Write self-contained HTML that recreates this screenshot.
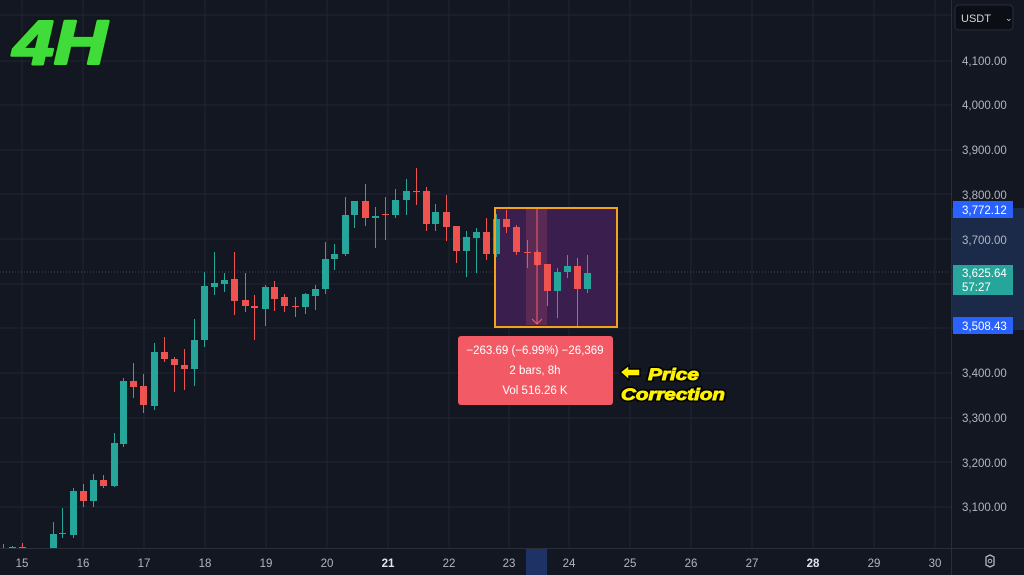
<!DOCTYPE html>
<html><head><meta charset="utf-8"><style>
html,body{margin:0;padding:0;background:#131722;width:1024px;height:575px;overflow:hidden}
svg{display:block}
text{font-family:"Liberation Sans",sans-serif}
</style></head><body>
<svg id="s" width="1024" height="575" viewBox="0 0 1024 575" xmlns="http://www.w3.org/2000/svg">
<rect width="1024" height="575" fill="#131722"/>
<g stroke="#1f2431" stroke-width="1">
<line x1="0" y1="61" x2="951" y2="61"/><line x1="0" y1="105" x2="951" y2="105"/><line x1="0" y1="150" x2="951" y2="150"/>
<line x1="0" y1="194" x2="951" y2="194"/><line x1="0" y1="239" x2="951" y2="239"/><line x1="0" y1="284" x2="951" y2="284"/>
<line x1="0" y1="328" x2="951" y2="328"/><line x1="0" y1="373" x2="951" y2="373"/><line x1="0" y1="418" x2="951" y2="418"/>
<line x1="0" y1="462" x2="951" y2="462"/><line x1="0" y1="507" x2="951" y2="507"/><line x1="0" y1="15" x2="951" y2="15"/>
<line x1="22" y1="0" x2="22" y2="548"/><line x1="83" y1="0" x2="83" y2="548"/><line x1="144" y1="0" x2="144" y2="548"/>
<line x1="205" y1="0" x2="205" y2="548"/><line x1="266" y1="0" x2="266" y2="548"/><line x1="327" y1="0" x2="327" y2="548"/>
<line x1="388" y1="0" x2="388" y2="548"/><line x1="449" y1="0" x2="449" y2="548"/><line x1="509" y1="0" x2="509" y2="548"/>
<line x1="569" y1="0" x2="569" y2="548"/><line x1="630" y1="0" x2="630" y2="548"/><line x1="691" y1="0" x2="691" y2="548"/>
<line x1="752" y1="0" x2="752" y2="548"/><line x1="813" y1="0" x2="813" y2="548"/><line x1="874" y1="0" x2="874" y2="548"/>
<line x1="935" y1="0" x2="935" y2="548"/>
</g>
<line x1="0" y1="272" x2="951" y2="272" stroke="#3a4a5a" stroke-dasharray="1,2"/>
<rect x="495" y="208" width="122" height="119" fill="#3a1e4e" />
<rect x="526" y="209" width="21" height="116" fill="#5a2a55"/>
<g id="c"></g>
<line x1="537" y1="209" x2="537" y2="324" stroke="#f06070" stroke-width="1"/>
<polyline points="532,319 537,324 542,319" fill="none" stroke="#f06070"/>
<rect x="495" y="208" width="122" height="119" fill="none" stroke="#f3a21d" stroke-width="2"/>
<rect x="458" y="336" width="155" height="69" rx="3" fill="#f25b66"/>
<text x="535" y="354" fill="#fff" font-size="11.5" text-anchor="middle">−263.69 (−6.99%) −26,369</text>
<text x="535" y="374" fill="#fff" font-size="11.5" text-anchor="middle">2 bars, 8h</text>
<text x="535" y="394" fill="#fff" font-size="11.5" text-anchor="middle">Vol 516.26 K</text>
<polygon points="620,372 629,365 629,369 640,369 640,376 629,376 629,380" fill="#fff200" stroke="#000" stroke-width="1.5"/>
<g font-size="17" font-weight="bold" font-style="italic">
<text x="648" y="380" fill="#000" stroke="#000" stroke-width="4" stroke-linejoin="round" textLength="51" lengthAdjust="spacingAndGlyphs">Price</text>
<text x="621" y="400" fill="#000" stroke="#000" stroke-width="4" stroke-linejoin="round" textLength="104" lengthAdjust="spacingAndGlyphs">Correction</text>
<text x="648" y="380" fill="#fff200" stroke="#fff200" stroke-width="0.9" textLength="51" lengthAdjust="spacingAndGlyphs">Price</text>
<text x="621" y="400" fill="#fff200" stroke="#fff200" stroke-width="0.9" textLength="104" lengthAdjust="spacingAndGlyphs">Correction</text>
</g>
<g font-size="62" font-weight="bold" font-style="italic">
<text x="13" y="64" fill="#0a1a0a" stroke="#0a1a0a" stroke-width="5" stroke-linejoin="round" textLength="94" lengthAdjust="spacingAndGlyphs">4H</text>
<text x="13" y="64" fill="#3fdc3a" stroke="#3fdc3a" stroke-width="2.5" stroke-linejoin="round" textLength="94" lengthAdjust="spacingAndGlyphs">4H</text>
</g>
<!-- price axis -->
<rect x="951" y="0" width="73" height="575" fill="#131722"/>
<line x1="951.5" y1="0" x2="951.5" y2="575" stroke="#2a2e39"/>
<rect x="952" y="208" width="72" height="122" fill="#1c2a4a"/>
<line x1="0" y1="548.5" x2="1024" y2="548.5" stroke="#2a2e39"/>
<rect x="955" y="5" width="58" height="25" rx="4" fill="#0c0e15" stroke="#2a2e39"/>
<text x="961" y="22" fill="#d1d4dc" font-size="11">USDT</text>
<text x="1005" y="21" fill="#d1d4dc" font-size="9">⌄</text>
<g fill="#b2b5be" font-size="11.5">
<text x="962" y="65">4,100.00</text><text x="962" y="109">4,000.00</text><text x="962" y="154">3,900.00</text>
<text x="962" y="199">3,800.00</text><text x="962" y="244">3,700.00</text><text x="962" y="377">3,400.00</text>
<text x="962" y="422">3,300.00</text><text x="962" y="467">3,200.00</text><text x="962" y="511">3,100.00</text>
</g>
<rect x="953" y="201" width="60" height="17" fill="#2962ff"/>
<text x="962" y="214" fill="#fff" font-size="11.5">3,772.12</text>
<rect x="953" y="265" width="60" height="30" fill="#26a69a"/>
<text x="962" y="277" fill="#fff" font-size="11.5">3,625.64</text>
<text x="962" y="291" fill="#fff" font-size="11.5">57:27</text>
<rect x="953" y="317" width="60" height="17" fill="#2962ff"/>
<text x="962" y="330" fill="#fff" font-size="11.5">3,508.43</text>
<rect x="526" y="549" width="21" height="26" fill="#1e3266"/>
<g fill="#b2b5be" font-size="11.5" text-anchor="middle">
<text x="22" y="567">15</text><text x="83" y="567">16</text><text x="144" y="567">17</text><text x="205" y="567">18</text>
<text x="266" y="567">19</text><text x="327" y="567">20</text><text x="388" y="567" fill="#e0e3eb" font-weight="bold">21</text><text x="449" y="567">22</text>
<text x="509" y="567">23</text><text x="569" y="567">24</text><text x="630" y="567">25</text><text x="691" y="567">26</text>
<text x="752" y="567">27</text><text x="813" y="567" fill="#e0e3eb" font-weight="bold">28</text><text x="874" y="567">29</text><text x="935" y="567">30</text>
</g>
<polygon points="986,557 990,555 994,557 994,565 990,567 986,565" fill="none" stroke="#b2b5be" stroke-width="1.3"/>
<circle cx="990" cy="561" r="1.8" fill="none" stroke="#b2b5be"/>
</svg>
<script>
var d=[[3,548,549,544,549],[12,548,547,546,549],[22,547,548,543,549],[53,548,534,522,548],[62,534,533,508,538],[73,535,491,488,538],[83,491,501,484,507],[93,501,480,474,507],[103,480,486,475,488],[114,486,443,433,487],[123,444,381,378,447],[133,381,387,363,398],[143,386,405,374,413],[154,406,352,343,410],[164,352,359,337,362],[174,359,365,357,392],[184,365,369,349,390],[194,369,340,319,386],[204,340,286,272,347],[214,287,283,252,295],[224,284,280,273,292],[234,279,301,252,315],[245,300,306,273,312],[254,306,308,295,340],[265,309,287,285,326],[274,287,299,281,311],[284,297,306,294,312],[295,306,307,297,317],[305,307,294,293,314],[315,296,289,285,310],[325,289,259,242,294],[334,259,254,244,270],[345,254,215,197,256],[354,215,201,201,228],[365,201,218,184,226],[375,218,216,207,248],[385,214,215,197,240],[395,215,200,189,218],[406,200,191,179,215],[416,191,192,168,205],[426,191,224,187,231],[435,224,212,204,231],[446,212,227,195,241],[456,226,251,226,263],[466,251,237,231,277],[476,238,232,228,273],[486,232,254,218,260],[496,254,219,214,257],[506,219,227,210,233],[516,227,252,225,255],[527,252,253,240,268],[537,252,265,250,266],[547,264,291,264,306],[557,291,272,268,318],[567,272,266,255,278],[577,266,289,258,327],[587,289,273,255,293]];
var g=document.getElementById('c'),h='';
d.forEach(function(c){var x=c[0],o=c[1],cl=c[2],col=(cl<o)?'#26a69a':'#ef5350';
var t=Math.min(o,cl),b=Math.max(o,cl);if(b-t<1)b=t+1;
h+='<line x1="'+(x+.5)+'" y1="'+c[3]+'" x2="'+(x+.5)+'" y2="'+c[4]+'" stroke="'+col+'"/>';
h+='<rect x="'+(x-3)+'" y="'+t+'" width="7" height="'+(b-t)+'" fill="'+col+'"/>';});
g.innerHTML=h;
</script>
</body></html>
